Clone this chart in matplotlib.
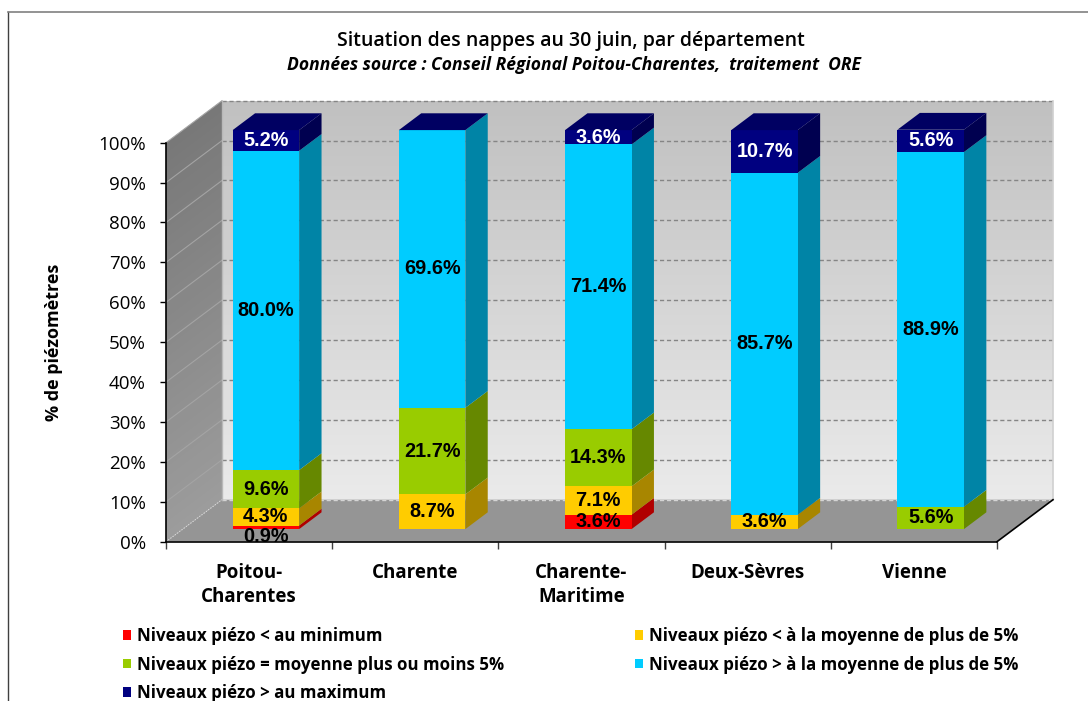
import matplotlib
matplotlib.use("Agg")
import matplotlib.pyplot as plt
import numpy as np
from matplotlib.patches import Polygon, Patch
from matplotlib.lines import Line2D
from matplotlib.colors import to_rgb

# ---------------- data ----------------
categories = ["Poitou-\nCharentes", "Charente", "Charente-\nMaritime", "Deux-Sèvres", "Vienne"]
series_names = [
    "Niveaux piézo < au minimum",
    "Niveaux piézo < à la moyenne de plus de 5%",
    "Niveaux piézo = moyenne plus ou moins 5%",
    "Niveaux piézo > à la moyenne de plus de 5%",
    "Niveaux piézo > au maximum",
]
below_min = [0.9, 0.0, 3.6, 0.0, 0.0]
below_avg = [4.3, 8.7, 7.1, 3.6, 0.0]
near_avg = [9.6, 21.7, 14.3, 0.0, 5.6]
above_avg = [80.0, 69.6, 71.4, 85.7, 88.9]
above_max = [5.2, 0.0, 3.6, 10.7, 5.6]
y_ticks = [0, 10, 20, 30, 40, 50, 60, 70, 80, 90, 100]
y_tick_labels = [f"{v}%" for v in y_ticks]
title = "Situation des nappes au 30 juin, par département"
subtitle = "Données source : Conseil Régional Poitou-Charentes,  traitement  ORE"
y_label = "% de piézomètres"

series = [below_min, below_avg, near_avg, above_avg, above_max]
front_colors = ["#FF0000", "#FFCC00", "#99CC00", "#00CCFF", "#000080"]
side_colors = ["#B00000", "#A88600", "#668800", "#0084A6", "#000050"]
top_color = "#000062"
label_colors = ["black", "black", "black", "black", "white"]

# ---------------- figure ----------------
W, H = 1088, 701
fig = plt.figure(figsize=(W / 100, H / 100), dpi=100)
fig.patch.set_facecolor("white")

ax_left, ax_right = 166, 997
ax_bottom, ax_top = 541.7, 142.7
ax = fig.add_axes([ax_left / W, (H - ax_bottom) / H, (ax_right - ax_left) / W, (ax_bottom - ax_top) / H])
ax.set_facecolor("none")
ax.set_xlim(-0.5, 4.5)
ax.set_ylim(0, 100)

# depth vector (full depth) in pixels -> data units
DEPTH_PX = (56.0, 42.0)
DX = DEPTH_PX[0] / ((ax_right - ax_left) / 5.0)
DY = DEPTH_PX[1] / ((ax_bottom - ax_top) / 100.0)
F_FRONT, F_BACK = 0.3, 0.7
BAR_W = 0.40


def P(x, y, f):
    return (x + f * DX, y + f * DY)


def mix(c1, c2, t):
    a, b = np.array(to_rgb(c1)), np.array(to_rgb(c2))
    return tuple(a + (b - a) * t)


# ---- left wall (gradient strips)
N = 80
for k in range(N):
    y0 = k * 100 / N
    y1 = min(100, (k + 1) * 100 / N + 0.3)
    col = mix("#9C9C9C", "#787878", k / (N - 1))
    ax.add_patch(Polygon([P(-0.5, y0, 0), P(-0.5, y1, 0), P(-0.5, y1, 1), P(-0.5, y0, 1)],
                         closed=True, facecolor=col, edgecolor="none", clip_on=False, zorder=0))

# ---- back wall (gradient strips)
for k in range(N):
    y0 = k * 100 / N
    y1 = min(100, (k + 1) * 100 / N + 0.3)
    col = mix("#EAEAEA", "#C0C0C0", k / (N - 1))
    ax.add_patch(Polygon([P(-0.5, y0, 1), P(4.5, y0, 1), P(4.5, y1, 1), P(-0.5, y1, 1)],
                         closed=True, facecolor=col, edgecolor="none", clip_on=False, zorder=0))

# ---- floor
ax.add_patch(Polygon([P(-0.5, 0, 0), P(4.5, 0, 0), P(4.5, 0, 1), P(-0.5, 0, 1)],
                     closed=True, facecolor="#959595", edgecolor="none", clip_on=False, zorder=1))

# ---- gridlines on back wall + left wall
for v in y_ticks:
    xa, ya = P(-0.5, v, 1)
    xb, yb = P(4.5, v, 1)
    if v == 0:
        ax.plot([xa, xb], [ya, yb], color="#D4D4D4", lw=1, ls=(0, (3, 2)), clip_on=False, zorder=2)
    else:
        ax.plot([xa, xb], [ya, yb], color="#858585", lw=1, ls=(0, (3, 2)), clip_on=False, zorder=2)
    xc, yc = P(-0.5, v, 0)
    ax.plot([xc, xa], [yc, ya], color="#A4A4A4" if v else "#DADADA", lw=0.8,
            ls="-" if v else (0, (1, 1.5)), clip_on=False, zorder=2)

# wall edges
x0, y0 = P(-0.5, 0, 1)
x1, y1 = P(-0.5, 100, 1)
ax.plot([x0, x1], [y0, y1], color="#B8B8B8", lw=1, clip_on=False, zorder=2)
x0, y0 = P(4.5, 0, 1)
x1, y1 = P(4.5, 100, 1)
ax.plot([x0, x1], [y0, y1], color="#D0D0D0", lw=1.2, clip_on=False, zorder=2)
x0, y0 = P(4.5, 0, 0)
x1, y1 = P(4.5, 0, 1)
ax.plot([x0, x1], [y0, y1], color="black", lw=1.2, clip_on=False, zorder=3)

# ---------------- stacked 3D bars ----------------
x_idx = np.arange(len(categories))
x_front = x_idx + F_FRONT * DX
bottoms = np.zeros(len(categories))
for s, vals in enumerate(series):
    vals = np.array(vals, dtype=float)
    # side faces
    for i in range(len(categories)):
        v = vals[i]
        if v <= 0:
            continue
        xr = x_idx[i] + BAR_W / 2
        b = bottoms[i]
        ax.add_patch(Polygon([P(xr, b, F_FRONT), P(xr, b + v, F_FRONT), P(xr, b + v, F_BACK), P(xr, b, F_BACK)],
                             closed=True, facecolor=side_colors[s], edgecolor="none", clip_on=False, zorder=4))
    # front faces
    ax.bar(x_front, vals, width=BAR_W, bottom=bottoms + F_FRONT * DY, color=front_colors[s],
           edgecolor="none", linewidth=0, zorder=5, clip_on=False)
    # labels
    for i in range(len(categories)):
        v = vals[i]
        if v <= 0:
            continue
        yl = bottoms[i] + v / 2 + F_FRONT * DY
        if v < 2:
            yl -= 2.4
        ax.text(x_front[i], yl, f"{v:.1f}%", ha="center", va="center", fontsize=14.3,
                fontweight="bold", family=["Liberation Sans", "DejaVu Sans"], color=label_colors[s],
                zorder=7, clip_on=False)
    bottoms = bottoms + vals

# top faces
for i in range(len(categories)):
    t = bottoms[i]
    xl, xr = x_idx[i] - BAR_W / 2, x_idx[i] + BAR_W / 2
    ax.add_patch(Polygon([P(xl, t, F_FRONT), P(xr, t, F_FRONT), P(xr, t, F_BACK), P(xl, t, F_BACK)],
                         closed=True, facecolor=top_color, edgecolor="none", clip_on=False, zorder=6))

# ---------------- axes styling ----------------
for sp in ["top", "right"]:
    ax.spines[sp].set_visible(False)
for sp in ["left", "bottom"]:
    ax.spines[sp].set_color("black")
    ax.spines[sp].set_linewidth(1.2)
    ax.spines[sp].set_zorder(3)

ax.set_yticks(y_ticks)
ax.set_yticklabels(y_tick_labels, fontsize=13.5, family=["Open Sans", "DejaVu Sans"])
ax.tick_params(axis="y", direction="out", length=4.5, width=1, pad=10, colors="black")

ax.set_xticks(np.arange(-0.5, 5.0, 1.0))
ax.set_xticklabels([])
ax.tick_params(axis="x", which="major", direction="out", length=5, width=1, color="#404040")
ax.set_xticks(x_idx, minor=True)
ax.set_xticklabels(categories, minor=True, fontsize=13.5, fontweight="bold",
                   family=["Open Sans", "DejaVu Sans"], linespacing=1.28)
ax.tick_params(axis="x", which="minor", length=0, pad=15)

# ---------------- texts ----------------
fig.text(571 / W, 1 - 46 / H, title, ha="center", va="baseline", fontsize=14,
         fontweight="semibold", family=["Open Sans", "DejaVu Sans"])
fig.text(574 / W, 1 - 70 / H, subtitle, ha="center", va="baseline", fontsize=12.6,
         fontweight="bold", style="italic", family=["Open Sans", "DejaVu Sans"])
fig.text(54 / W, 1 - 342 / H, y_label, rotation=90, ha="center", va="center", fontsize=13,
         fontweight="bold", family=["Open Sans", "DejaVu Sans"])

# ---------------- legend (two columns) ----------------
leg_font = {"family": ["Open Sans", "DejaVu Sans"], "weight": "bold", "size": 12.2}
col1 = [0, 2, 4]
col2 = [1, 3]
for cols, xpx in [(col1, 123), (col2, 635)]:
    handles = [Patch(facecolor=front_colors[s], edgecolor="none") for s in cols]
    labels = [series_names[s] for s in cols]
    fig.legend(handles, labels, loc="upper left", bbox_to_anchor=(xpx / W, 1 - 627 / H),
               bbox_transform=fig.transFigure, frameon=False, prop=leg_font,
               handlelength=0.5, handleheight=0.5, handletextpad=0.35,
               labelspacing=0.62, borderpad=0, borderaxespad=0)

# ---------------- outer border ----------------
fig.add_artist(Line2D([8 / W, 8 / W], [0, 1 - 12 / H], transform=fig.transFigure, color="#404040", lw=1))
fig.add_artist(Line2D([8 / W, 1], [1 - 12 / H, 1 - 12 / H], transform=fig.transFigure, color="#808080", lw=1.2))

fig.savefig("out.png", dpi=100)
